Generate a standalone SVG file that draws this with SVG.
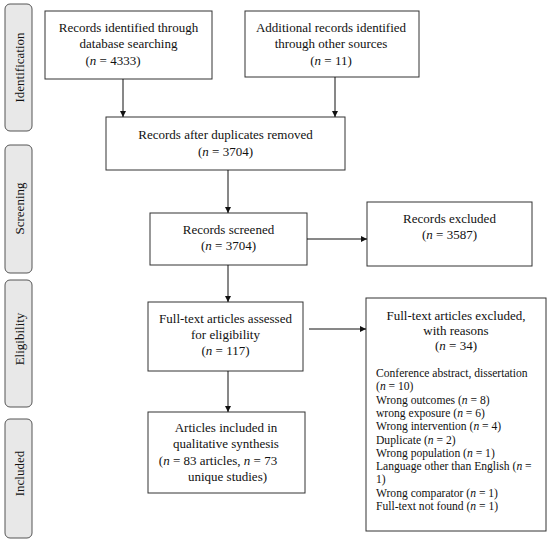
<svg xmlns="http://www.w3.org/2000/svg" width="550" height="542" viewBox="0 0 550 542">
<style>
.tab{fill:#e8e8e8;stroke:#555;stroke-width:1}
.box{fill:#fff;stroke:#333;stroke-width:1}
text{font-family:"Liberation Serif","Times New Roman",serif;font-size:13px;fill:#111}
.c{text-anchor:middle}
.s{font-size:11.6px}
.i{font-style:italic}
.ln{stroke:#111;stroke-width:1;fill:none}
</style>
<defs>
<marker id="ah" viewBox="0 0 10 10" refX="10" refY="5" markerWidth="6" markerHeight="6" orient="auto" markerUnits="userSpaceOnUse">
<path d="M0,0 L10,5 L0,10 z" fill="#111"/>
</marker>
</defs>
<rect width="550" height="542" fill="#fff"/>
<g id="tab-identification"><rect class="tab" x="5" y="4" width="27" height="127" rx="5"/><text class="c" transform="translate(23.5,67.5) rotate(-90)">Identification</text></g>
<g id="tab-screening"><rect class="tab" x="5" y="145" width="27" height="128" rx="5"/><text class="c" transform="translate(23.5,208.5) rotate(-90)">Screening</text></g>
<g id="tab-eligibility"><rect class="tab" x="5" y="280" width="27" height="127" rx="5"/><text class="c" transform="translate(23.5,339) rotate(-90)">Eligibility</text></g>
<g id="tab-included"><rect class="tab" x="5" y="419" width="27" height="119" rx="5"/><text class="c" transform="translate(23.5,473.5) rotate(-90)">Included</text></g>

<g id="n1"><rect class="box" x="45" y="11" width="167" height="68"/>
<text class="c" x="128.5" y="32">Records identified through</text>
<text class="c" x="128.5" y="48">database searching</text>
<text class="c" x="113" y="64.5">(<tspan class="i">n</tspan> = 4333)</text></g>

<g id="n2"><rect class="box" x="245" y="11" width="174" height="66"/>
<text class="c" x="331" y="32">Additional records identified</text>
<text class="c" x="331" y="48">through other sources</text>
<text class="c" x="331" y="64.5">(<tspan class="i">n</tspan> = 11)</text></g>

<g id="n3"><rect class="box" x="106" y="117" width="239" height="53"/>
<text class="c" x="225.5" y="139">Records after duplicates removed</text>
<text class="c" x="225.5" y="156">(<tspan class="i">n</tspan> = 3704)</text></g>

<g id="n4"><rect class="box" x="150" y="213" width="157" height="52"/>
<text class="c" x="228.5" y="234">Records screened</text>
<text class="c" x="228.5" y="250">(<tspan class="i">n</tspan> = 3704)</text></g>

<g id="n5"><rect class="box" x="367" y="202" width="165" height="64"/>
<text class="c" x="449.5" y="223">Records excluded</text>
<text class="c" x="449.5" y="239">(<tspan class="i">n</tspan> = 3587)</text></g>

<g id="n6"><rect class="box" x="148" y="302" width="155" height="69"/>
<text class="c" x="225.5" y="323">Full-text articles assessed</text>
<text class="c" x="225.5" y="339">for eligibility</text>
<text class="c" x="225.5" y="355">(<tspan class="i">n</tspan> = 117)</text></g>

<g id="n7"><rect class="box" x="366" y="298" width="180" height="233"/>
<text class="c" x="456" y="320">Full-text articles excluded,</text>
<text class="c" x="456" y="335">with reasons</text>
<text class="c" x="456" y="350">(<tspan class="i">n</tspan> = 34)</text>
<text class="s" x="376" y="377">Conference abstract, dissertation</text>
<text class="s" x="376" y="390.3">(<tspan class="i">n</tspan> = 10)</text>
<text class="s" x="376" y="403.6">Wrong outcomes (<tspan class="i">n</tspan> = 8)</text>
<text class="s" x="376" y="416.9">wrong exposure (<tspan class="i">n</tspan> = 6)</text>
<text class="s" x="376" y="430.2">Wrong intervention (<tspan class="i">n</tspan> = 4)</text>
<text class="s" x="376" y="443.5">Duplicate (<tspan class="i">n</tspan> = 2)</text>
<text class="s" x="376" y="456.8">Wrong population (<tspan class="i">n</tspan> = 1)</text>
<text class="s" x="376" y="470.1">Language other than English (<tspan class="i">n</tspan> =</text>
<text class="s" x="376" y="483.4">1)</text>
<text class="s" x="376" y="496.7">Wrong comparator (<tspan class="i">n</tspan> = 1)</text>
<text class="s" x="376" y="510">Full-text not found (<tspan class="i">n</tspan> = 1)</text></g>

<g id="n8"><rect class="box" x="148" y="412" width="157" height="81"/>
<text class="c" x="226" y="432">Articles included in</text>
<text class="c" x="226" y="448">qualitative synthesis</text>
<text class="c" x="218" y="464.5">(<tspan class="i">n</tspan> = 83 articles, <tspan class="i">n</tspan> = 73</text>
<text class="c" x="227.5" y="480.5">unique studies)</text></g>

<g id="connectors">
<line class="ln" x1="123" y1="79" x2="123" y2="117" marker-end="url(#ah)"/>
<line class="ln" x1="335" y1="77" x2="335" y2="117" marker-end="url(#ah)"/>
<line class="ln" x1="228" y1="170" x2="228" y2="213" marker-end="url(#ah)"/>
<line class="ln" x1="307" y1="239" x2="367" y2="239" marker-end="url(#ah)"/>
<line class="ln" x1="228" y1="265" x2="228" y2="302" marker-end="url(#ah)"/>
<line class="ln" x1="309" y1="329" x2="366" y2="329" marker-end="url(#ah)"/>
<line class="ln" x1="228" y1="371" x2="228" y2="412" marker-end="url(#ah)"/>
</g>
</svg>
